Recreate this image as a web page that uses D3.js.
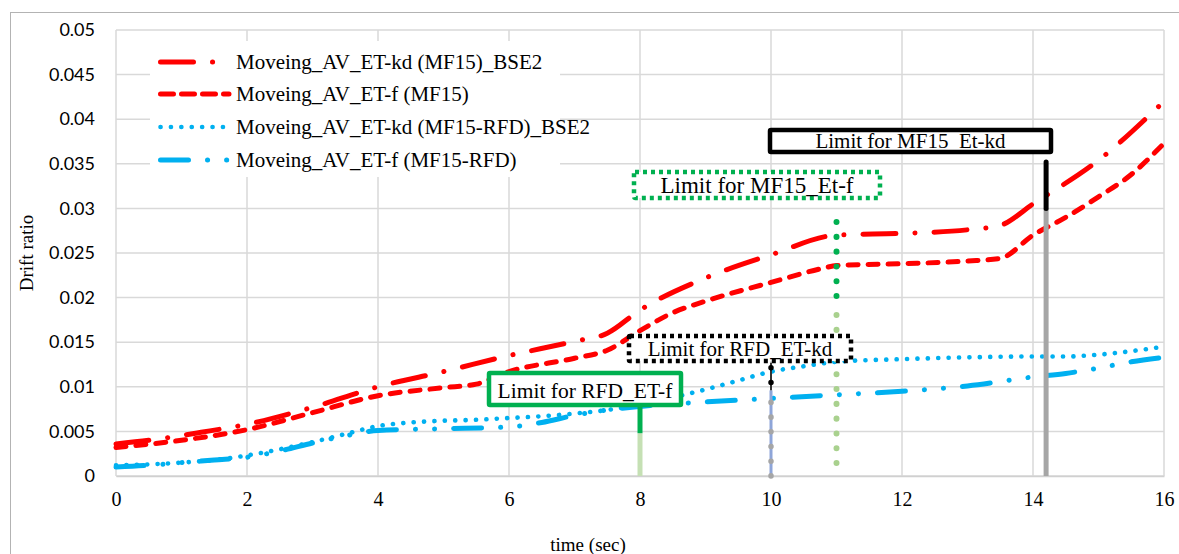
<!DOCTYPE html>
<html>
<head>
<meta charset="utf-8">
<script src="https://cdn.jsdelivr.net/npm/d3@7"></script>
<style>
  html, body { margin: 0; padding: 0; background: #fff; }
  svg { display: block; }
</style>
</head>
<body>
<svg id="chart" width="1179" height="554"></svg>
<script>
// ---------- DATA ----------
const xTicks = [0, 2, 4, 6, 8, 10, 12, 14, 16];
const yTicks = [0, 0.005, 0.01, 0.015, 0.02, 0.025, 0.03, 0.035, 0.04, 0.045, 0.05];
const yTickLabels = ["0", "0.005", "0.01", "0.015", "0.02", "0.025", "0.03", "0.035", "0.04", "0.045", "0.05"];

const seriesNames = [
  "Moveing_AV_ET-kd (MF15)_BSE2",
  "Moveing_AV_ET-f (MF15)",
  "Moveing_AV_ET-kd (MF15-RFD)_BSE2",
  "Moveing_AV_ET-f (MF15-RFD)"
];

const timeKdMF15 = [0, 0.5, 1.3, 2, 3, 4, 5, 6, 7, 7.5, 8, 9, 10, 11, 12, 13, 13.5, 14, 15, 16];
const kdMF15 = [0.0036, 0.0040, 0.0049, 0.0058, 0.0077, 0.0100, 0.0117, 0.0135, 0.0151, 0.0160, 0.0186, 0.0222, 0.0248, 0.0270, 0.0272, 0.0276, 0.0281, 0.0305, 0.0354, 0.0420];

const timeFMF15 = [0, 1, 2, 3, 4, 5, 5.5, 6, 7, 7.5, 8, 8.5, 9, 10, 10.8, 11, 12, 13, 13.5, 14, 14.5, 15, 15.5, 16];
const fMF15 = [0.0032, 0.0040, 0.0052, 0.0071, 0.0090, 0.0099, 0.0103, 0.0117, 0.0132, 0.0141, 0.0163, 0.0183, 0.0196, 0.0217, 0.0233, 0.0236, 0.0238, 0.0241, 0.0244, 0.0270, 0.0290, 0.0313, 0.0338, 0.0373];

const timeKdRFD = [0, 0.5, 1, 1.5, 2, 2.5, 3, 3.5, 4, 4.5, 5, 5.5, 6, 6.5, 7, 7.5, 8, 8.5, 9, 9.5, 10, 10.5, 11, 12, 13, 14, 14.5, 15, 15.5, 16];
const kdRFD = [0.0012, 0.0013, 0.0015, 0.0018, 0.0023, 0.0030, 0.0038, 0.0047, 0.0056, 0.0060, 0.0062, 0.0063, 0.0065, 0.0067, 0.0070, 0.0074, 0.0080, 0.0088, 0.0097, 0.0107, 0.0117, 0.0123, 0.0128, 0.0131, 0.0133, 0.0134, 0.0134, 0.0136, 0.0140, 0.0145];

const timeFRFD = [0, 0.5, 1, 1.5, 2, 2.5, 3, 3.5, 4, 5, 6, 6.5, 7, 7.5, 8, 9, 10, 11, 12, 13, 14, 14.5, 15, 15.5, 16];
const fRFD = [0.0010, 0.0012, 0.0015, 0.0018, 0.0021, 0.0028, 0.0037, 0.0045, 0.0051, 0.0053, 0.0055, 0.0060, 0.0068, 0.0074, 0.0078, 0.0083, 0.0087, 0.0091, 0.0095, 0.0101, 0.0111, 0.0115, 0.0121, 0.0128, 0.0133];

// limit markers: time, top of marker, colour split level
const limitLabels = ["Limit for RFD_ET-f", "Limit for RFD_ET-kd", "Limit for MF15_Et-f", "Limit for MF15_Et-kd"];
const limitTimes = [8, 10, 11, 14.2];
const limitTops = [0.0078, 0.0127, 0.0287, 0.0352];
const limitSplits = [0.0048, 0.0096, 0.0197, 0.0300];

// ---------- LAYOUT ----------
const svg = d3.select("#chart");
const L = 116, R = 1164, T = 30, B = 476;
const x = d3.scaleLinear().domain([0, 16]).range([L, R]);
const y = d3.scaleLinear().domain([0, 0.05]).range([B, T]);

const serif = "'Liberation Serif', 'Times New Roman', serif";

// outer border
svg.append("rect").attr("x", 10.5).attr("y", 12.5).attr("width", 1200).attr("height", 600)
  .attr("fill", "none").attr("stroke", "#b3b3b3").attr("stroke-width", 1);

// gridlines
const grid = svg.append("g");
grid.selectAll("line.h").data(yTicks).join("line")
  .attr("x1", L).attr("x2", R).attr("y1", d => y(d)).attr("y2", d => y(d))
  .attr("stroke", "#d9d9d9").attr("stroke-width", 1.5);
grid.selectAll("line.v").data(xTicks).join("line")
  .attr("y1", T).attr("y2", B).attr("x1", d => x(d)).attr("x2", d => x(d))
  .attr("stroke", "#d9d9d9").attr("stroke-width", 1.5);

// axes (labels only, via d3 axes)
const yAxis = d3.axisLeft(y).tickValues(yTicks).tickFormat((d, i) => yTickLabels[i]).tickSize(0).tickPadding(21);
const gy = svg.append("g").attr("transform", `translate(${L},0)`).call(yAxis);
gy.select(".domain").remove();
gy.selectAll("text").attr("font-family", "Lato, sans-serif").attr("font-size", 18).attr("fill", "#000");

const xAxis = d3.axisBottom(x).tickValues(xTicks).tickFormat(d3.format("d")).tickSize(0).tickPadding(16);
const gx = svg.append("g").attr("transform", `translate(0,${B})`).call(xAxis);
gx.select(".domain").attr("stroke", "#d0d0d0").attr("stroke-width", 1.5);
gx.selectAll("text").attr("font-family", serif).attr("font-size", 20).attr("fill", "#000");

// axis titles
svg.append("text").attr("x", 588).attr("y", 551).attr("text-anchor", "middle")
  .attr("font-family", serif).attr("font-size", 19).text("time (sec)");
svg.append("text").attr("transform", "translate(33,253) rotate(-90)").attr("text-anchor", "middle")
  .attr("font-family", serif).attr("font-size", 19).text("Drift ratio");

// legend background
svg.append("rect").attr("x", 150).attr("y", 41).attr("width", 410).attr("height", 136).attr("fill", "#fff");

// series
const styles = [
  { color: "#ff0000", dash: "33,19,0.1,19", width: 5 },
  { color: "#ff0000", dash: "10,10", width: 5 },
  { color: "#00b0f0", dash: "0.1,10.3", width: 4.6 },
  { color: "#00b0f0", dash: "28,19,0.1,19,0.1,19", width: 5 }
];
const seriesData = [
  [timeKdMF15, kdMF15],
  [timeFMF15, fMF15],
  [timeKdRFD, kdRFD],
  [timeFRFD, fRFD]
];
const line = d3.line().x(d => x(d[0])).y(d => y(d[1])).curve(d3.curveMonotoneX);
seriesData.forEach((s, i) => {
  const pts = s[0].map((t, j) => [t, s[1][j]]);
  svg.append("path").datum(pts).attr("d", line)
    .attr("fill", "none").attr("stroke", styles[i].color)
    .attr("stroke-width", styles[i].width).attr("stroke-dasharray", styles[i].dash)
    .attr("stroke-linecap", "round").attr("stroke-linejoin", "round");
});

// legend
const legendRows = [62, 94, 127, 160];
seriesNames.forEach((n, i) => {
  const ry = legendRows[i];
  svg.append("line").attr("x1", 160.5).attr("x2", 229).attr("y1", ry).attr("y2", ry)
    .attr("stroke", styles[i].color).attr("stroke-width", styles[i].width)
    .attr("stroke-dasharray", i === 1 ? "13,8" : styles[i].dash).attr("stroke-linecap", "round");
  svg.append("text").attr("x", 236).attr("y", ry + 7).attr("font-family", serif)
    .attr("font-size", 21).text(n);
});

// limit vertical markers
const lim = svg.append("g");
// 0: RFD_ET-f at 8 (solid green / light green)
lim.append("line").attr("x1", x(limitTimes[0])).attr("x2", x(limitTimes[0]))
  .attr("y1", y(limitSplits[0])).attr("y2", B).attr("stroke", "#c5e0b4").attr("stroke-width", 5);
lim.append("line").attr("x1", x(limitTimes[0])).attr("x2", x(limitTimes[0]))
  .attr("y1", y(limitTops[0])).attr("y2", y(limitSplits[0])).attr("stroke", "#00b050").attr("stroke-width", 5);
// 1: RFD_ET-kd at 10 (black dotted / blue-grey)
lim.append("line").attr("x1", x(limitTimes[1])).attr("x2", x(limitTimes[1]))
  .attr("y1", y(limitSplits[1])).attr("y2", B).attr("stroke", "#8ea5d8").attr("stroke-width", 3);
lim.append("line").attr("x1", x(limitTimes[1])).attr("x2", x(limitTimes[1]))
  .attr("y1", y(limitSplits[1])).attr("y2", B).attr("stroke", "#a6a6a6").attr("stroke-width", 5.5)
  .attr("stroke-dasharray", "0.1,14.6").attr("stroke-linecap", "round").attr("stroke-dashoffset", -12);
lim.append("line").attr("x1", x(limitTimes[1])).attr("x2", x(limitTimes[1]))
  .attr("y1", y(limitTops[1])).attr("y2", y(limitSplits[1])).attr("stroke", "#333").attr("stroke-width", 2);
lim.append("line").attr("x1", x(limitTimes[1])).attr("x2", x(limitTimes[1]))
  .attr("y1", y(limitTops[1])).attr("y2", y(limitSplits[1])).attr("stroke", "#000").attr("stroke-width", 5.5)
  .attr("stroke-dasharray", "0.1,14.6").attr("stroke-linecap", "round").attr("stroke-dashoffset", -5);
// 2: MF15_Et-f at 11 (green dots / light green dots)
lim.append("line").attr("x1", x(limitTimes[2])).attr("x2", x(limitTimes[2]))
  .attr("y1", y(limitSplits[2])).attr("y2", B).attr("stroke", "#a9d18e").attr("stroke-width", 6)
  .attr("stroke-dasharray", "0.1,14.7").attr("stroke-linecap", "round").attr("stroke-dashoffset", -14.7);
lim.append("line").attr("x1", x(limitTimes[2])).attr("x2", x(limitTimes[2]))
  .attr("y1", y(limitTops[2])).attr("y2", y(limitSplits[2])).attr("stroke", "#00b050").attr("stroke-width", 6)
  .attr("stroke-dasharray", "0.1,14.7").attr("stroke-linecap", "round").attr("stroke-dashoffset", -2);
// 3: MF15_Et-kd at 14.2 (black / grey)
lim.append("line").attr("x1", x(limitTimes[3])).attr("x2", x(limitTimes[3]))
  .attr("y1", y(limitSplits[3])).attr("y2", B).attr("stroke", "#a6a6a6").attr("stroke-width", 5);
lim.append("line").attr("x1", x(limitTimes[3])).attr("x2", x(limitTimes[3]))
  .attr("y1", y(limitTops[3])).attr("y2", y(limitSplits[3])).attr("stroke", "#000").attr("stroke-width", 5)
  .attr("stroke-linecap", "round");

// limit label boxes
const boxes = [
  { x: 489, y: 373, w: 192, h: 32, stroke: "#00b050", dash: null, fs: 21.5, ty: 398 },
  { x: 629, y: 336, w: 222, h: 25, stroke: "#000", dash: "4,4", fs: 21, ty: 356 },
  { x: 634, y: 172, w: 246, h: 26, stroke: "#00b050", dash: "4,4", fs: 23, ty: 193 },
  { x: 770, y: 130, w: 281, h: 22, stroke: "#000", dash: null, fs: 21, ty: 148 }
];
boxes.forEach((b, i) => {
  svg.append("rect").attr("x", b.x).attr("y", b.y).attr("width", b.w).attr("height", b.h)
    .attr("fill", "#fff").attr("stroke", b.stroke).attr("stroke-width", 4.5)
    .attr("stroke-dasharray", b.dash).attr("rx", 1);
  svg.append("text").attr("x", b.x + b.w / 2).attr("y", b.ty).attr("text-anchor", "middle")
    .attr("font-family", serif).attr("font-size", b.fs).text(limitLabels[i]);
});
</script>
</body>
</html>
